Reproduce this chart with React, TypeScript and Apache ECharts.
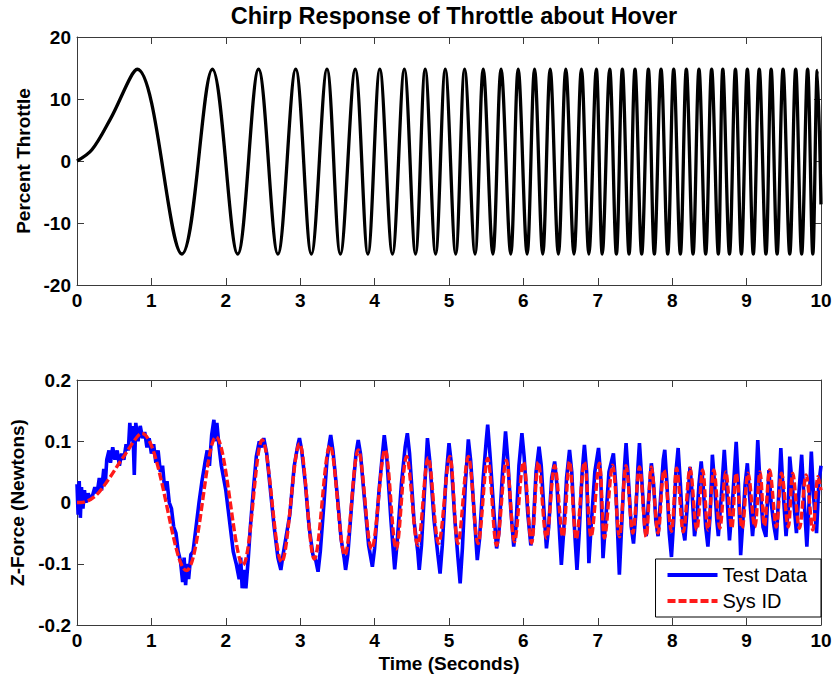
import React, { useEffect, useRef } from 'react';
import * as echarts from 'echarts';

const titleText = 'Chirp Response of Throttle about Hover';
const topYName = 'Percent Throttle';
const bottomYName = 'Z-Force (Newtons)';
const xName = 'Time (Seconds)';
const seriesNames = ['Test Data', 'Sys ID'];

// Top plot: throttle chirp, read at start points and at each peak/trough
const throttleTime = [
  0, 0.2, 0.45, 0.81, 1.41, 1.82, 2.16, 2.44, 2.70, 2.94, 3.15, 3.36, 3.54, 3.74, 3.91,
  4.07, 4.24, 4.40, 4.55, 4.68, 4.82, 4.95, 5.09, 5.21, 5.35, 5.46, 5.59, 5.70, 5.83, 5.93, 6.05,
  6.15, 6.26, 6.36, 6.47, 6.57, 6.68, 6.78, 6.88, 6.98, 7.06, 7.16, 7.25, 7.33, 7.42, 7.50, 7.59,
  7.68, 7.76, 7.85, 7.94, 8.02, 8.11, 8.19, 8.28, 8.36, 8.45, 8.53, 8.62, 8.68, 8.77, 8.85, 8.93,
  9.01, 9.09, 9.17, 9.26, 9.33, 9.41, 9.49, 9.58, 9.66, 9.74, 9.82, 9.89, 9.95, 10.0
];
const throttleValue = [
  0, 1.8, 6.8, 14.8, -15.0, 14.8, -15.0, 14.8, -15.0, 14.8, -15.0, 14.8, -15.0, 14.8, -15.0,
  14.8, -15.0, 14.8, -15.0, 14.8, -15.0, 14.8, -15.0, 14.8, -15.0, 14.8, -15.0, 14.8, -15.0, 14.8, -15.0,
  14.8, -15.0, 14.8, -15.0, 14.8, -15.0, 14.8, -15.0, 14.8, -15.0, 14.8, -15.0, 14.8, -15.0, 14.8, -15.0,
  14.8, -15.0, 14.8, -15.0, 14.8, -15.0, 14.8, -15.0, 14.8, -15.0, 14.8, -15.0, 14.8, -15.0, 14.8, -15.0,
  14.8, -15.0, 14.8, -15.0, 14.8, -15.0, 14.8, -15.0, 14.8, -15.0, 14.8, -15.0, 14.6, -7.0
];

// Bottom plot: Sys ID (red dashed), read at start points and at each peak/trough
const sysIdTime = [
  0, 0.05, 0.24, 0.42, 0.60, 0.87, 1.47, 1.87, 2.23, 2.49, 2.75, 2.99, 3.19, 3.40, 3.60, 3.78,
  3.96, 4.14, 4.29, 4.43, 4.58, 4.72, 4.86, 5.01, 5.12, 5.26, 5.39, 5.52, 5.64, 5.77, 5.88, 6.00,
  6.11, 6.20, 6.31, 6.42, 6.53, 6.62, 6.71, 6.82, 6.91, 7.02, 7.09, 7.20, 7.29, 7.38, 7.47, 7.56,
  7.65, 7.72, 7.81, 7.89, 7.99, 8.06, 8.15, 8.24, 8.33, 8.41, 8.48, 8.56, 8.64, 8.72, 8.80, 8.86,
  8.94, 9.02, 9.11, 9.18, 9.24, 9.31, 9.40, 9.47, 9.56, 9.62, 9.71, 9.80, 9.89, 9.96, 10.0
];
const sysIdForce = [
  0, 0, 0.01, 0.037, 0.07, 0.113, -0.111, 0.107, -0.102, 0.102, -0.097, 0.096, -0.092, 0.093, -0.086, 0.086,
  -0.076, 0.086, -0.076, 0.075, -0.070, 0.073, -0.067, 0.075, -0.067, 0.075, -0.067, 0.072, -0.070, 0.069, -0.064, 0.066,
  -0.066, 0.066, -0.058, 0.060, -0.056, 0.067, -0.060, 0.066, -0.056, 0.064, -0.058, 0.061, -0.056, 0.060, -0.050, 0.058,
  -0.056, 0.058, -0.050, 0.053, -0.047, 0.056, -0.048, 0.056, -0.045, 0.053, -0.045, 0.053, -0.042, 0.050, -0.042, 0.048,
  -0.042, 0.048, -0.040, 0.050, -0.038, 0.053, -0.040, 0.048, -0.040, 0.048, -0.042, 0.045, -0.045, 0.042, 0.02
];

// Bottom plot: Test Data (blue), noisy measured trace
const testTime = [
  0.00, 0.015, 0.03, 0.045, 0.06, 0.08, 0.10, 0.12, 0.15, 0.18, 0.21, 0.24, 0.27, 0.30, 0.33, 0.36,
  0.38, 0.40, 0.43, 0.45, 0.48, 0.51, 0.54, 0.57, 0.60, 0.63, 0.66, 0.69, 0.71, 0.73, 0.75, 0.77,
  0.79, 0.82, 0.85, 0.88, 0.91, 0.94, 0.97, 1.00, 1.03, 1.06, 1.09, 1.12, 1.15, 1.18, 1.21, 1.24,
  1.27, 1.30, 1.33, 1.36, 1.39, 1.42, 1.44, 1.46, 1.48, 1.50, 1.53, 1.56, 1.60, 1.64, 1.68, 1.72,
  1.75, 1.78, 1.81, 1.84, 1.86, 1.88, 1.91, 1.94, 1.97, 2.00, 2.03, 2.06, 2.10, 2.14, 2.18, 2.20,
  2.22, 2.25, 2.27, 2.30, 2.33, 2.37, 2.41, 2.45, 2.48, 2.51, 2.55, 2.60, 2.65, 2.70, 2.74, 2.77,
  2.86, 2.92, 2.97, 2.99, 3.02, 3.07, 3.12, 3.17, 3.21, 3.24, 3.27, 3.32, 3.36, 3.39, 3.41, 3.44,
  3.50, 3.55, 3.59, 3.61, 3.64, 3.70, 3.75, 3.78, 3.81, 3.86, 3.92, 3.97, 4.00, 4.06, 4.11, 4.13,
  4.16, 4.22, 4.27, 4.30, 4.36, 4.41, 4.44, 4.47, 4.53, 4.58, 4.60, 4.63, 4.68, 4.71, 4.74, 4.80,
  4.85, 4.88, 4.91, 4.96, 5.00, 5.03, 5.08, 5.12, 5.15, 5.18, 5.22, 5.26, 5.29, 5.34, 5.38, 5.41,
  5.46, 5.50, 5.52, 5.55, 5.60, 5.64, 5.67, 5.72, 5.76, 5.79, 5.83, 5.87, 5.90, 5.94, 5.98, 6.01,
  6.06, 6.10, 6.13, 6.17, 6.21, 6.24, 6.28, 6.31, 6.34, 6.38, 6.42, 6.45, 6.49, 6.51, 6.54, 6.58,
  6.62, 6.65, 6.69, 6.72, 6.75, 6.79, 6.82, 6.85, 6.88, 6.91, 6.96, 7.01, 7.04, 7.07, 7.10, 7.15,
  7.21, 7.24, 7.27, 7.29, 7.32, 7.36, 7.38, 7.41, 7.45, 7.48, 7.51, 7.54, 7.56, 7.59, 7.63, 7.65,
  7.68, 7.72, 7.75, 7.78, 7.81, 7.84, 7.88, 7.90, 7.93, 7.96, 7.99, 8.02, 8.05, 8.08, 8.11, 8.14,
  8.17, 8.20, 8.24, 8.27, 8.30, 8.33, 8.36, 8.39, 8.42, 8.45, 8.48, 8.51, 8.54, 8.57, 8.60, 8.62,
  8.66, 8.70, 8.73, 8.75, 8.77, 8.81, 8.86, 8.89, 8.92, 8.95, 8.98, 9.01, 9.04, 9.08, 9.11, 9.15,
  9.18, 9.22, 9.26, 9.28, 9.30, 9.33, 9.37, 9.40, 9.43, 9.46, 9.49, 9.53, 9.56, 9.58, 9.62, 9.67,
  9.70, 9.74, 9.77, 9.81, 9.84, 9.87, 9.90, 9.94, 9.97, 10.00
];
const testForce = [
  0.030, -0.020, 0.035, -0.025, 0.025, -0.010, 0.020, 0.000, 0.015, 0.005, 0.012, 0.025, 0.015, 0.040, 0.020, 0.055,
  0.030, 0.070, 0.085, 0.065, 0.090, 0.070, 0.085, 0.060, 0.080, 0.070, 0.095, 0.085, 0.130, 0.100, 0.125, 0.045,
  0.130, 0.100, 0.125, 0.105, 0.115, 0.090, 0.105, 0.080, 0.095, 0.065, 0.085, 0.050, 0.060, 0.020, 0.035, 0.000,
  -0.010, -0.040, -0.050, -0.080, -0.095, -0.130, -0.090, -0.135, -0.100, -0.125, -0.085, -0.080, -0.040, 0.000, 0.035, 0.065,
  0.085, 0.060, 0.110, 0.135, 0.100, 0.130, 0.090, 0.060, 0.040, 0.020, -0.010, -0.040, -0.080, -0.100, -0.125, -0.090,
  -0.140, -0.110, -0.140, -0.095, -0.040, 0.020, 0.075, 0.100, 0.090, 0.105, 0.080, 0.020, -0.040, -0.090, -0.110, -0.085,
  -0.020, 0.060, 0.095, 0.105, 0.085, 0.030, -0.040, -0.085, -0.095, -0.113, -0.080, 0.000, 0.070, 0.095, 0.110, 0.085,
  0.010, -0.060, -0.090, -0.110, -0.085, 0.010, 0.080, 0.102, 0.080, 0.010, -0.070, -0.105, -0.075, 0.020, 0.085, 0.110,
  0.080, -0.030, -0.109, -0.070, 0.030, 0.090, 0.113, 0.080, -0.030, -0.080, -0.110, -0.070, 0.040, 0.105, 0.070, -0.030,
  -0.085, -0.116, -0.070, 0.040, 0.097, 0.065, -0.030, -0.090, -0.132, -0.075, 0.030, 0.103, 0.070, -0.020, -0.094, -0.060,
  0.040, 0.100, 0.127, 0.080, -0.010, -0.075, -0.050, 0.050, 0.116, 0.070, -0.010, -0.072, -0.040, 0.060, 0.113, 0.075,
  -0.020, -0.070, -0.045, 0.050, 0.091, 0.060, -0.020, -0.075, -0.040, 0.040, 0.067, 0.030, -0.060, -0.102, -0.050, 0.040,
  0.086, 0.050, -0.050, -0.110, -0.050, 0.050, 0.094, 0.050, -0.099, -0.040, 0.050, 0.089, 0.040, -0.091, -0.040, 0.050,
  0.080, 0.030, -0.060, -0.118, -0.040, 0.060, 0.097, 0.040, -0.040, -0.067, -0.020, 0.060, 0.097, 0.040, -0.040, -0.055,
  0.000, 0.064, 0.030, -0.030, -0.055, 0.000, 0.070, 0.086, 0.030, -0.050, -0.089, -0.030, 0.050, 0.089, 0.030, -0.040,
  -0.062, -0.010, 0.058, 0.010, -0.055, -0.030, 0.030, 0.067, 0.020, -0.040, -0.072, -0.020, 0.078, 0.030, -0.030, -0.055,
  0.010, 0.086, 0.030, -0.020, -0.062, 0.000, 0.099, 0.030, -0.086, -0.030, 0.030, 0.064, 0.010, -0.055, -0.010, 0.102,
  0.030, -0.040, -0.056, 0.000, 0.053, 0.000, -0.040, -0.061, 0.010, 0.089, 0.020, -0.055, -0.010, 0.075, 0.020, -0.050,
  0.010, 0.078, 0.010, -0.072, 0.000, 0.083, 0.010, -0.050, 0.030, 0.060
];

const xTickStep = 1;
const topYRange = [-20, 20, 10];
const bottomYRange = [-0.2, 0.2, 0.1];

const FONT = "'Liberation Sans', Arial, Helvetica, sans-serif";
const AXIS_COLOR = '#3a3a3a';
const TICK_FONT = 19;
const NAME_FONT = 19;

function zip(a: number[], b: number[]) {
  return a.map((t, i) => [t, b[i]]);
}

function xAxes(gridIndex: number, withName: boolean) {
  const common = {
    gridIndex,
    type: 'value',
    min: 0,
    max: 10,
    interval: xTickStep,
    splitLine: { show: false },
    axisLine: { show: true, onZero: false, lineStyle: { color: AXIS_COLOR, width: 1 } },
    axisTick: { show: true, inside: true, length: 7, lineStyle: { color: AXIS_COLOR, width: 1 } },
  };
  return [
    {
      ...common,
      position: 'bottom',
      axisLabel: { color: '#000', fontSize: TICK_FONT, fontWeight: 'bold', fontFamily: FONT, margin: 6 },
      name: withName ? xName : '',
      nameLocation: 'middle',
      nameGap: 29,
      nameTextStyle: { color: '#000', fontSize: NAME_FONT, fontWeight: 'bold', fontFamily: FONT },
    },
    { ...common, position: 'top', axisLabel: { show: false } },
  ];
}

function yAxes(gridIndex: number, range: number[], name: string, fmt?: (v: number) => string) {
  const common = {
    gridIndex,
    type: 'value',
    min: range[0],
    max: range[1],
    interval: range[2],
    splitLine: { show: false },
    axisLine: { show: true, onZero: false, lineStyle: { color: AXIS_COLOR, width: 1 } },
    axisTick: { show: true, inside: true, length: 7, lineStyle: { color: AXIS_COLOR, width: 1 } },
  };
  return [
    {
      ...common,
      position: 'left',
      axisLabel: {
        color: '#000',
        fontSize: TICK_FONT,
        fontWeight: 'bold',
        fontFamily: FONT,
        margin: 6,
        formatter: fmt,
      },
      name,
      nameLocation: 'middle',
      nameGap: 44,
      nameTextStyle: { color: '#000', fontSize: NAME_FONT, fontWeight: 'bold', fontFamily: FONT },
    },
    { ...common, position: 'right', axisLabel: { show: false } },
  ];
}

export default function App() {
  const ref = useRef<HTMLDivElement>(null);
  useEffect(() => {
    document.body.style.margin = '0';
    const chart = echarts.init(ref.current!, null, { renderer: 'svg' });
    const option: any = {
      animation: false,
      backgroundColor: '#fff',
      title: {
        text: titleText,
        left: 449,
        top: -1,
        textAlign: 'center',
        textStyle: { color: '#000', fontSize: 23.5, fontWeight: 'bold', fontFamily: FONT },
      },
      grid: [
        { left: 77, top: 37, width: 744, height: 248 },
        { left: 77, top: 380, width: 744, height: 245 },
      ],
      xAxis: [...xAxes(0, false), ...xAxes(1, true)],
      yAxis: [
        ...yAxes(0, topYRange, topYName),
        ...yAxes(1, bottomYRange, bottomYName, (v: number) => String(Math.round(v * 10) / 10)),
      ],
      legend: {
        data: seriesNames,
        orient: 'vertical',
        right: 14,
        bottom: 64,
        itemWidth: 50,
        itemHeight: 14,
        itemGap: 6,
        padding: [6, 14, 6, 10],
        borderColor: '#000',
        borderWidth: 1,
        backgroundColor: '#fff',
        itemStyle: { opacity: 0 },
        lineStyle: { width: 4 },
        textStyle: { color: '#000', fontSize: 20, fontFamily: FONT },
      },
      series: [
        {
          type: 'line',
          xAxisIndex: 0,
          yAxisIndex: 0,
          data: zip(throttleTime, throttleValue),
          symbol: 'none',
          smooth: 0.35,
          lineStyle: { color: '#000', width: 3.3 },
          silent: true,
        },
        {
          name: seriesNames[0],
          type: 'line',
          xAxisIndex: 2,
          yAxisIndex: 2,
          data: zip(testTime, testForce),
          symbol: 'none',
          color: '#0000ff',
          lineStyle: { color: '#0000ff', width: 3.6 },
          silent: true,
        },
        {
          name: seriesNames[1],
          type: 'line',
          xAxisIndex: 2,
          yAxisIndex: 2,
          data: zip(sysIdTime, sysIdForce),
          symbol: 'none',
          smooth: 0.35,
          color: '#ff0000',
          lineStyle: { color: '#ff1a1a', width: 3.4, type: [8, 3] },
          silent: true,
        },
      ],
    };
    chart.setOption(option);
    return () => chart.dispose();
  }, []);
  return <div ref={ref} style={{ width: 835, height: 681 }} />;
}
